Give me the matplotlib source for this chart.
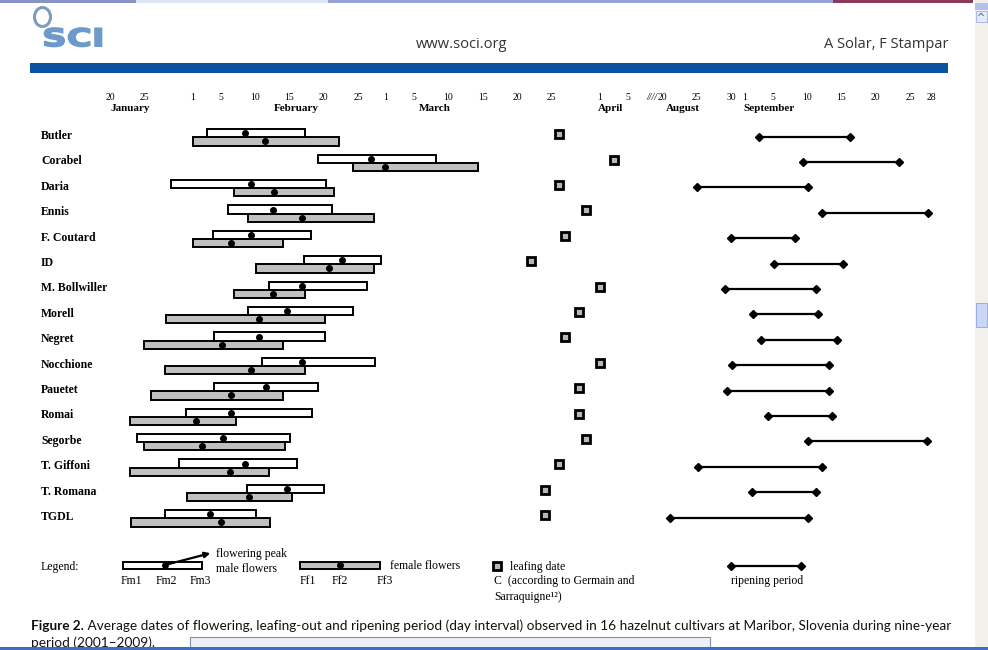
import datetime
import matplotlib
matplotlib.use("Agg")
import matplotlib.pyplot as plt
from matplotlib import font_manager
from matplotlib.font_manager import FontProperties
from matplotlib.patches import Rectangle, Ellipse, FancyArrowPatch, PathPatch
from matplotlib.textpath import TextPath
from matplotlib.transforms import Affine2D

# ---------------- data (day of year, 2009 calendar) ----------------
cultivars = ["Butler", "Corabel", "Daria", "Ennis", "F. Coutard", "ID",
             "M. Bollwiller", "Morell", "Negret", "Nocchione", "Pauetet",
             "Romai", "Segorbe", "T. Giffoni", "T. Romana", "TGDL"]
male_start = [34.0, 50.1, 28.9, 37.1, 34.9, 48.1, 43.1, 40.0, 35.0, 42.1, 35.0, 31.0, 23.9, 30.0, 39.8, 27.9]
male_peak = [39.6, 57.8, 40.5, 43.6, 40.5, 53.6, 47.8, 45.6, 41.6, 47.8, 42.6, 37.6, 36.4, 39.6, 45.6, 34.5]
male_end = [48.2, 67.3, 51.3, 52.2, 49.1, 59.3, 57.3, 55.2, 51.2, 58.4, 50.2, 49.3, 46.1, 47.1, 51.0, 41.2]
female_start = [32.0, 55.2, 38.0, 40.0, 32.1, 41.1, 38.0, 28.1, 24.9, 28.0, 25.9, 22.9, 24.9, 22.9, 31.1, 23.0]
female_peak = [42.5, 59.9, 43.7, 47.8, 37.6, 51.7, 43.6, 41.6, 36.3, 40.4, 37.5, 32.5, 33.4, 37.4, 40.2, 36.1]
female_end = [53.2, 73.3, 52.4, 58.3, 45.1, 58.3, 48.3, 51.1, 45.1, 48.2, 45.1, 38.2, 45.3, 43.1, 46.4, 43.2]
leafing = [85, 93, 85, 89, 86, 81, 91, 88, 86, 91, 88, 88, 89, 85, 83, 83]
ripen_start = [246.1, 252.4, 237.1, 255.2, 242.0, 248.2, 241.1, 245.2, 246.3, 242.1, 241.4, 247.3, 253.2, 237.2, 245.0, 233.2]
ripen_end = [259.3, 266.3, 253.1, 270.5, 251.3, 258.3, 254.3, 254.6, 257.3, 256.2, 256.2, 256.6, 270.4, 255.2, 254.3, 253.1]

spring_ticks = [(1, [20, 25]), (2, [1, 5, 10, 15, 20, 25]), (3, [1, 5, 10, 15, 20, 25]), (4, [1, 5])]
autumn_ticks = [(8, [20, 25, 30]), (9, [1, 5, 10, 15, 20, 25, 28])]
month_labels = [("January", 1, 23), ("February", 2, 16), ("March", 3, 8),
                ("April", 4, 2.5), ("August", 8, 23), ("September", 9, 4.5)]

# ---------------- layout ----------------
W, H = 988, 650
AUT = 132            # autumn days shifted left (axis break)
PX0, DAY0, PXD = 110, 20, 6.9
ROW0, ROWH = 136, 25.4
AX_L, AX_R, AX_T, AX_B = 30, 950, 80, 600

SERIF = "Liberation Serif"
names = {f.name for f in font_manager.fontManager.ttflist}
CAPF = "Liberation Sans Narrow" if "Liberation Sans Narrow" in names else "Lato"
HEADF = "Open Sans"


def doy(m, d):
    return datetime.date(2009, m, 1).timetuple().tm_yday + d - 1


def ax_x(day):
    return day - AUT if day > 200 else day


fig = plt.figure(figsize=(W / 100, H / 100), dpi=100)
bg = fig.add_axes([0, 0, 1, 1])
bg.set_xlim(0, W)
bg.set_ylim(H, 0)
bg.axis("off")

ax = fig.add_axes([AX_L / W, 1 - AX_B / H, (AX_R - AX_L) / W, (AX_B - AX_T) / H])
ax.set_xlim(DAY0 + (AX_L - PX0) / PXD, DAY0 + (AX_R - PX0) / PXD)
ax.set_ylim((AX_B - ROW0) / ROWH, (AX_T - ROW0) / ROWH)
ax.axis("off")
ax.patch.set_alpha(0)

# ---------------- screenshot chrome ----------------
bg.add_patch(Rectangle((0, 0), 136, 3, color="#8a93c6", lw=0))
bg.add_patch(Rectangle((136, 0), 192, 3, color="#dfe5f5", lw=0))
bg.add_patch(Rectangle((328, 0), 505, 3, color="#98a4d3", lw=0))
bg.add_patch(Rectangle((833, 0), 140, 3, color="#8a3a5a", lw=0))
bg.add_patch(Rectangle((975, 0), 13, 650, color="#f1f0ea", lw=0))
bg.add_patch(Rectangle((975, 3), 13, 7, color="#b3c2ea", lw=0))
bg.add_patch(Rectangle((976, 11), 11, 11, facecolor="#e3e9f8", edgecolor="#9fb0dd", lw=0.6))
bg.text(981.5, 17.5, "^", ha="center", va="center", fontsize=7, color="#4a5a80")
bg.add_patch(Rectangle((976, 303), 11, 24, facecolor="#c9d6f4", edgecolor="#8fa5dc", lw=0.6))
bg.add_patch(Rectangle((190, 637), 520, 11, facecolor="#eceff6", edgecolor="#7f8fb0", lw=0.8))
bg.add_patch(Rectangle((0, 647), 988, 3, color="#3b6fc4", lw=0))

# ---------------- header ----------------
bg.add_patch(Ellipse((42.5, 17), 16, 19, fill=False, edgecolor="#7f9bbf", lw=2.2))
tp = TextPath((0, 0), "SCI", size=1, prop=FontProperties(family="DejaVu Sans", weight="bold"))
ext = tp.get_extents()
sx = 57 / ext.width
sy = 18.5 / ext.height
logo_tf = Affine2D().translate(-ext.x0, -ext.y0).scale(sx, -sy).translate(44.5, 46.5)
bg.add_patch(PathPatch(logo_tf.transform_path(tp), facecolor="#6d9acb",
                       edgecolor="#6d9acb", lw=1.2))
bg.text(462, 44, "www.soci.org", fontfamily=HEADF, fontsize=10.5, color="#333333",
        ha="center", va="center")
bg.text(948, 44, "A Solar, F Stampar", fontfamily=HEADF, fontsize=10.5, color="#333333",
        ha="right", va="center")
bg.add_patch(Rectangle((30, 63), 918, 10, color="#0b53a0", lw=0))

# ---------------- axis labels ----------------
y_num = (97 - ROW0) / ROWH
y_mon = (108 - ROW0) / ROWH
for m, days in spring_ticks + autumn_ticks:
    for d in days:
        ax.text(ax_x(doy(m, d)), y_num, str(d), fontfamily=SERIF, fontsize=7,
                ha="center", va="center")
ax.text(ax_x(doy(8, 20)) - 0.7, y_num, "////", fontfamily=SERIF, fontsize=7,
        style="italic", ha="right", va="center")
for name, m, d in month_labels:
    ax.text(ax_x(doy(m, 1) + d - 1), y_mon, name, fontfamily=SERIF, fontsize=8,
            weight="bold", ha="center", va="center")

# ---------------- rows ----------------
BAR_H = 0.32
for i, name in enumerate(cultivars):
    bg.text(41, ROW0 + i * ROWH, name, fontfamily=SERIF, weight="bold", fontsize=8.5,
            ha="left", va="center")
    ym = i - 0.105
    yf = i + 0.215
    ax.barh(yf, female_end[i] - female_start[i], left=female_start[i], height=BAR_H,
            color="#c0c0c0", edgecolor="black", lw=1.4, zorder=2)
    ax.barh(ym, male_end[i] - male_start[i], left=male_start[i], height=BAR_H,
            color="white", edgecolor="black", lw=1.4, zorder=3)
    ax.plot(male_peak[i], ym, "o", ms=4, color="black", zorder=4)
    ax.plot(female_peak[i], yf, "o", ms=4, color="black", zorder=4)
    ax.plot(leafing[i], i - 0.07, "s", ms=6, mfc="#b8b8b8", mec="black", mew=2, zorder=4)
    ax.plot([ax_x(ripen_start[i]), ax_x(ripen_end[i])], [i + 0.02, i + 0.02], "-",
            color="black", lw=1.6, marker="D", ms=4.5, zorder=4)

# ---------------- legend ----------------
LF = dict(fontfamily=SERIF, fontsize=8.5)
bg.text(41, 567, "Legend:", ha="left", va="center", **LF)
bg.add_patch(Rectangle((123, 561.5), 79, 7, facecolor="white", edgecolor="black", lw=1.4))
bg.plot(165, 565, "o", ms=4, color="black")
bg.add_patch(FancyArrowPatch((165, 565), (213, 552.5), arrowstyle="-|>", mutation_scale=8,
                             color="black", lw=1.6))
bg.text(216, 554, "flowering peak", ha="left", va="center", **LF)
bg.text(216, 569, "male flowers", ha="left", va="center", **LF)
for lab, x in [("Fm1", 131), ("Fm2", 166), ("Fm3", 200)]:
    bg.text(x, 581, lab, ha="center", va="center", **LF)
bg.add_patch(Rectangle((300, 561.5), 80, 7, facecolor="#c0c0c0", edgecolor="black", lw=1.4))
bg.plot(340, 565, "o", ms=4, color="black")
bg.text(390, 566, "female flowers", ha="left", va="center", **LF)
for lab, x in [("Ff1", 308), ("Ff2", 340), ("Ff3", 385)]:
    bg.text(x, 581, lab, ha="center", va="center", **LF)
bg.plot(497, 566, "s", ms=6, mfc="#b8b8b8", mec="black", mew=2)
bg.text(510, 567, "leafing date", ha="left", va="center", **LF)
bg.text(494, 581, "C  (according to Germain and", ha="left", va="center", **LF)
bg.text(494, 597, "Sarraquigne\u00b9\u00b2)", ha="left", va="center", **LF)
bg.plot([731, 801], [566, 566], "-", color="black", lw=1.6, marker="D", ms=4.5)
bg.text(731, 581, "ripening period", ha="left", va="center", **LF)

# ---------------- caption ----------------
cap_bold = "Figure 2."
cap_rest = (" Average dates of flowering, leafing-out and ripening period (day interval) "
            "observed in 16 hazelnut cultivars at Maribor, Slovenia during nine-year")
size = 10.0
t1 = bg.text(31, 626, cap_bold, fontfamily=CAPF, weight="bold", fontsize=size,
             ha="left", va="center", color="#111111")
t2 = bg.text(31, 626, cap_rest, fontfamily=CAPF, fontsize=size, ha="left", va="center",
             color="#111111")
r = fig.canvas.get_renderer()
w_total = t1.get_window_extent(r).width + t2.get_window_extent(r).width
size = size * 917 / w_total
t1.set_fontsize(size)
t2.set_fontsize(size)
w1 = t1.get_window_extent(r).width
t2.set_x(31 + w1)
bg.text(31, 643, "period (2001\u20132009).", fontfamily=CAPF, fontsize=size, ha="left",
        va="center", color="#111111", zorder=0)

fig.savefig("out.png", dpi=100)
